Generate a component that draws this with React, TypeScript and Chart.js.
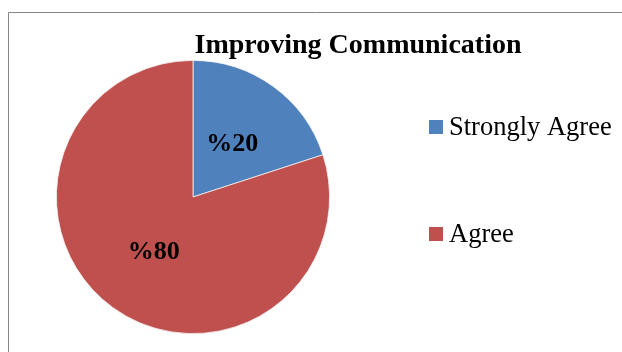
import React, { useEffect, useRef } from "react";
import { Chart, registerables } from "chart.js";

Chart.register(...registerables);

const title = "Improving Communication";
const categories = ["Strongly Agree", "Agree"];
const values = [20, 80];
const labelTexts = ["%20", "%80"];
const colors = ["#4F81BD", "#C0504D"];

const FONT = "'Liberation Serif', 'Times New Roman', serif";

const decorPlugin = {
  id: "decor",
  beforeDraw(chart: any) {
    const ctx = chart.ctx;
    ctx.save();
    ctx.fillStyle = "#ffffff";
    ctx.fillRect(0, 0, chart.width, chart.height);
    ctx.strokeStyle = "#878787";
    ctx.lineWidth = 1;
    ctx.beginPath();
    ctx.moveTo(8.5, chart.height);
    ctx.lineTo(8.5, 12.5);
    ctx.lineTo(chart.width, 12.5);
    ctx.stroke();
    ctx.restore();
  },
  afterDatasetsDraw(chart: any) {
    const ctx = chart.ctx;
    ctx.save();
    // data labels
    const meta = chart.getDatasetMeta(0);
    ctx.font = `bold 26px ${FONT}`;
    ctx.fillStyle = "#000";
    ctx.textAlign = "center";
    ctx.textBaseline = "middle";
    meta.data.forEach((arc: any, i: number) => {
      const p = arc.getProps(["startAngle", "endAngle", "outerRadius", "x", "y"], true);
      const mid = (p.startAngle + p.endAngle) / 2;
      const r = p.outerRadius * 0.49;
      ctx.fillText(labelTexts[i], p.x + Math.cos(mid) * r, p.y + Math.sin(mid) * r + 1);
    });
    // title
    ctx.font = `bold 28px ${FONT}`;
    ctx.textBaseline = "alphabetic";
    ctx.fillText(title, 358, 53);
    // legend
    ctx.textAlign = "left";
    ctx.font = `26.5px ${FONT}`;
    const ys = [135, 242];
    categories.forEach((c, i) => {
      ctx.fillStyle = colors[i];
      ctx.fillRect(429, ys[i] - 15, 14, 14);
      ctx.fillStyle = "#000";
      ctx.fillText(c, 449, ys[i]);
    });
    ctx.restore();
  },
};

export default function App() {
  const ref = useRef<HTMLCanvasElement>(null);
  useEffect(() => {
    const chart = new Chart(ref.current!, {
      type: "pie",
      data: {
        labels: categories,
        datasets: [
          {
            data: values,
            backgroundColor: colors,
            borderColor: "#f2f2f2",
            borderWidth: 0.8,
          },
        ],
      },
      options: {
        animation: false,
        responsive: false,
        devicePixelRatio: 1,
        layout: { padding: { left: 56, top: 60, right: 292, bottom: 18 } },
        plugins: {
          legend: { display: false },
          title: { display: false },
          tooltip: { enabled: false },
        },
      },
      plugins: [decorPlugin],
    });
    return () => chart.destroy();
  }, []);
  return (
    <div style={{ position: "fixed", left: 0, top: 0, width: 622, height: 352 }}>
      <canvas ref={ref} width={622} height={352} style={{ display: "block" }} />
    </div>
  );
}
